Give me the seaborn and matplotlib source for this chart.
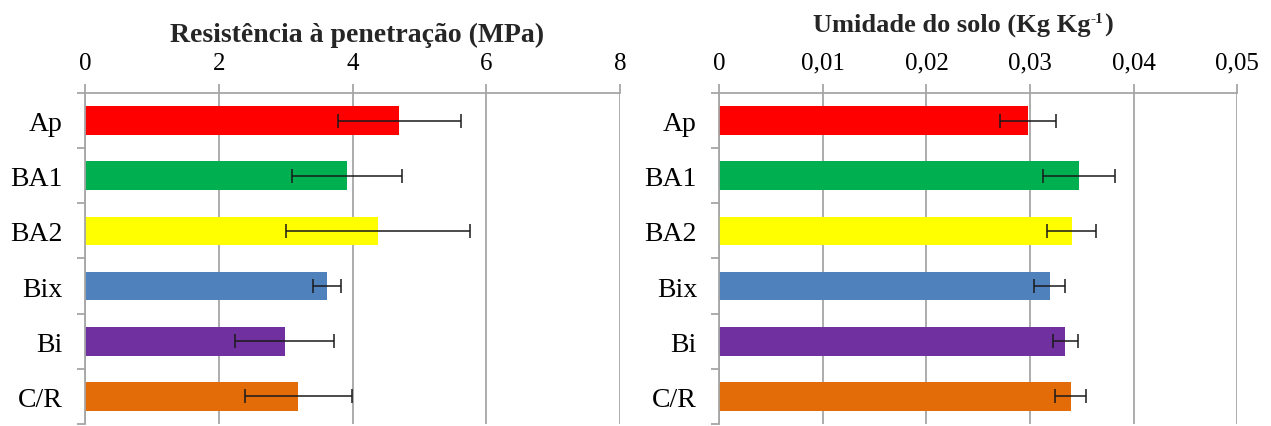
import numpy as np
import pandas as pd
import matplotlib
matplotlib.use("Agg")
import matplotlib.pyplot as plt
import seaborn as sns
from matplotlib.ticker import FixedLocator, FuncFormatter

categories = ["Ap", "BA1", "BA2", "Bix", "Bi", "C/R"]
colors = ["#FF0000", "#00B050", "#FFFF00", "#4F81BD", "#7030A0", "#E36C09"]

resist_mean = [4.70, 3.92, 4.38, 3.62, 2.99, 3.19]
resist_err = [0.92, 0.82, 1.38, 0.21, 0.74, 0.80]

umid_mean = [0.0298, 0.0347, 0.0340, 0.0319, 0.0334, 0.0339]
umid_err = [0.0027, 0.0035, 0.0024, 0.0015, 0.0012, 0.0015]

resist_ticks = [0, 2, 4, 6, 8]
umid_ticks = [0, 0.01, 0.02, 0.03, 0.04, 0.05]

sns.set_theme(style="white")
plt.rcParams["font.family"] = ["Liberation Serif", "DejaVu Serif"]

W, H = 1271, 427
fig = plt.figure(figsize=(W / 100, H / 100), dpi=100)
ax1 = fig.add_axes([0.0669, 0.0047, 0.4209, 0.7752])
ax2 = fig.add_axes([0.5659, 0.0047, 0.4076, 0.7752])

grid_c = "#a6a6a6"


def panel(ax, means, errs, ticks, fmt):
    df = pd.DataFrame({"cat": categories, "val": means})
    sns.barplot(data=df, x="val", y="cat", hue="cat", palette=colors,
                order=categories, hue_order=categories, orient="h",
                width=0.52, legend=False, ax=ax, saturation=1,
                edgecolor="none")
    ax.errorbar(means, np.arange(len(categories)), xerr=errs, fmt="none",
                ecolor="#1a1a1a", elinewidth=1.1, capsize=5, capthick=1.1,
                zorder=5)
    ax.set_xlim(ticks[0], ticks[-1])
    ax.set_ylim(len(categories) - 0.5, -0.5)
    ax.xaxis.tick_top()
    ax.set_xticks(ticks)
    ax.xaxis.set_major_formatter(FuncFormatter(fmt))
    ax.grid(axis="x", color=grid_c, linewidth=1.3)
    ax.set_axisbelow(True)
    ax.tick_params(axis="x", top=True, bottom=False, length=6.5, width=1.3,
                   color=grid_c, pad=7.5, labelsize=18, labelcolor="black")
    ax.set_yticks(np.arange(len(categories)))
    ax.set_yticklabels(categories)
    ax.yaxis.set_minor_locator(FixedLocator(np.arange(len(categories) + 1) - 0.5))
    ax.tick_params(axis="y", which="major", length=0, pad=16, labelsize=20,
                   labelcolor="black")
    ax.tick_params(axis="y", which="minor", left=True, length=6, width=1.3,
                   color=grid_c)
    for s in ["right", "bottom"]:
        ax.spines[s].set_visible(False)
    for s in ["top", "left"]:
        ax.spines[s].set_color(grid_c)
        ax.spines[s].set_linewidth(1.3)
    ax.set_xlabel("")
    ax.set_ylabel("")


panel(ax1, resist_mean, resist_err, resist_ticks, lambda v, p: f"{v:g}")
panel(ax2, umid_mean, umid_err, umid_ticks,
      lambda v, p: "0" if v == 0 else f"{v:.2f}".replace(".", ","))

# Titles
fig.text(357.5 / W, 1 - 42 / H, "Resistência à penetração (MPa)",
         fontsize=20, fontweight="bold", ha="center", va="baseline")
t1 = fig.text(813 / W, 1 - 32 / H, "Umidade do solo (Kg Kg",
              fontsize=19, fontweight="bold", ha="left", va="baseline")
t2 = ax2.annotate("-1", xy=(1, 0), xycoords=t1, xytext=(0.3, 10.5),
                  textcoords="offset points", va="baseline", ha="left",
                  fontsize=11, fontweight="bold", annotation_clip=False)
t3 = ax2.annotate(")", xy=(1, 0), xycoords=(t2, t1), xytext=(0.3, 0),
                  textcoords="offset points", va="bottom", ha="left",
                  fontsize=19, fontweight="bold", annotation_clip=False)

fig.savefig("out.png", dpi=100)
